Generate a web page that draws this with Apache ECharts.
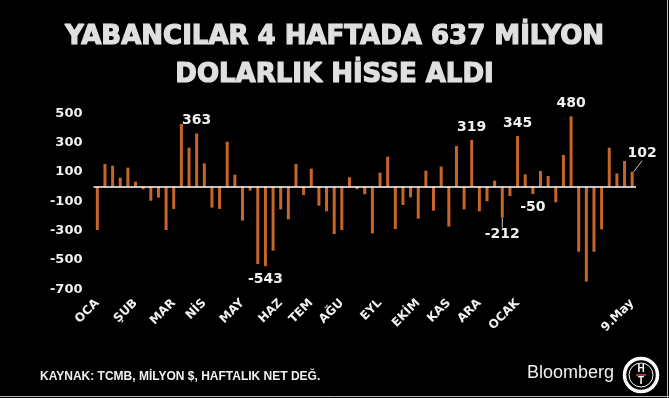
<!DOCTYPE html>
<html><head><meta charset="utf-8">
<script src="https://cdn.jsdelivr.net/npm/echarts@6/dist/echarts.min.js"></script>
<style>html,body{margin:0;padding:0;background:#000}#c{width:669px;height:398px}</style>
</head><body><div id="c"></div>
<script>
// Weekly net foreign equity flows, million $
const weeklyFlows = [
  -296, 155, 143, 61, 130, 34, -18, -96, -75, -296,
  -152, 428, 266, 363, 159, -143, -152, 307, 82, -232,
  -27, -528, -543, -437, -155, -223, 155, -57, 123, -130,
  -168, -323, -296, 64, -18, -52, -319, 96, 205, -289,
  -125, -73, -218, 109, -164, 137, -273, 278, -155, 319,
  -168, -100, 41, -212, -64, 345, 84, -50, 107, 73,
  -107, 216, 480, -444, -648, -444, -291, 266, 91, 175,
  102
];
const weekNames = weeklyFlows.map((_, i) => 'H' + (i + 1));
const monthLabels = ['OCA', 'ŞUB', 'MAR', 'NİS', 'MAY', 'HAZ', 'TEM', 'AĞU', 'EYL', 'EKİM', 'KAS', 'ARA', 'OCAK', '9.May'];
const monthLabelWeek = [0, 5, 10, 14, 19, 24, 28, 32, 37, 42, 46, 50, 55, 70];
const labeledWeeks = [13, 22, 49, 53, 55, 57, 62, 70];
const yTickLabels = [-700, -500, -300, -100, 100, 300, 500];

const titleLines = ['YABANCILAR 4 HAFTADA 637 MİLYON', 'DOLARLIK HİSSE ALDI'];
const sourceText = 'KAYNAK: TCMB, MİLYON $, HAFTALIK NET DEĞ.';

const chart = echarts.init(document.getElementById('c'), null, {renderer: 'canvas'});

const barData = weeklyFlows.map((v, i) => {
  const item = {value: v};
  if (labeledWeeks.includes(i)) {
    item.label = {show: true, position: v >= 0 ? 'top' : 'bottom'};
    if (i === 53 || i === 70) item.labelLine = {show: true};
  }
  return item;
});

chart.setOption({
  backgroundColor: '#000',
  animation: false,
  grid: {left: 93.5, right: 33, top: 113.4, bottom: 108.8, containLabel: false},
  xAxis: {
    type: 'category',
    data: weekNames,
    axisLine: {show: false},
    axisTick: {show: false},
    splitLine: {show: false},
    axisLabel: {
      interval: 0,
      rotate: 45,
      margin: 12,
      color: '#f2f2f2',
      fontFamily: 'DejaVu Sans',
      fontWeight: 'bold',
      fontSize: 12,
      formatter: (v, i) => {
        const k = monthLabelWeek.indexOf(i);
        return k >= 0 ? monthLabels[k] : '';
      }
    }
  },
  yAxis: {
    type: 'value',
    min: -700,
    max: 500,
    interval: 100,
    axisLine: {show: false},
    axisTick: {show: false},
    splitLine: {show: false},
    axisLabel: {
      margin: 11,
      color: '#f2f2f2',
      fontFamily: 'DejaVu Sans',
      fontWeight: 'bold',
      fontSize: 13,
      formatter: v => yTickLabels.includes(v) ? String(v) : ''
    }
  },
  series: [{
    type: 'bar',
    data: barData,
    barWidth: 3,
    itemStyle: {color: '#c8652a'},
    label: {
      show: false,
      distance: 6,
      color: '#f2f2f2',
      fontFamily: 'DejaVu Sans',
      fontWeight: 'bold',
      fontSize: 14
    },
    labelLine: {show: false, lineStyle: {color: '#cccccc', width: 1}},
    labelLayout: p => {
      if (p.dataIndex === 70) return {dx: 10, dy: -5};
      if (p.dataIndex === 53) return {dy: 4};
      return {};
    },
    markLine: {
      silent: true,
      symbol: ['none', 'none'],
      label: {show: false},
      lineStyle: {color: '#ffffff', width: 1.5, type: 'solid'},
      data: [{yAxis: 0}]
    }
  }],
  graphic: [
    {type: 'text', left: 'center', top: 24, style: {text: titleLines[0], fill: '#e0e0e0', stroke: '#e0e0e0', lineWidth: 1.2, font: 'bold 26px "DejaVu Sans"'}},
    {type: 'text', left: 'center', top: 61.4, style: {text: titleLines[1], fill: '#e0e0e0', stroke: '#e0e0e0', lineWidth: 1.2, font: 'bold 26px "DejaVu Sans"'}},
    {type: 'text', x: 40, y: 377, style: {text: sourceText, fill: '#f0f0f0', font: 'bold 12px "Liberation Sans"', verticalAlign: 'middle'}},
    {type: 'text', x: 527, y: 373, style: {text: 'Bloomberg', fill: '#f0f0f0', font: '18px "Liberation Sans"', verticalAlign: 'middle'}},
    {type: 'circle', shape: {cx: 641, cy: 375, r: 16.5}, style: {fill: 'none', stroke: '#ffffff', lineWidth: 3.5}},
    {type: 'circle', shape: {cx: 641, cy: 375, r: 12}, style: {fill: 'none', stroke: '#ffffff', lineWidth: 1}},
    {type: 'text', x: 641, y: 369, style: {text: 'H', fill: '#ffffff', font: 'bold 10px "Liberation Sans"', align: 'center', verticalAlign: 'middle'}},
    {type: 'line', shape: {x1: 636, y1: 375, x2: 646, y2: 375}, style: {stroke: '#b03030', lineWidth: 2}},
    {type: 'text', x: 641, y: 381.5, style: {text: 'T', fill: '#ffffff', font: 'bold 10px "Liberation Sans"', align: 'center', verticalAlign: 'middle'}},
    {type: 'line', shape: {x1: 667.5, y1: 0, x2: 667.5, y2: 398}, style: {stroke: '#bbbbbb', lineWidth: 1}},
    {type: 'line', shape: {x1: 0, y1: 396.5, x2: 669, y2: 396.5}, style: {stroke: '#bbbbbb', lineWidth: 1}}
  ]
});
</script>
</body></html>
